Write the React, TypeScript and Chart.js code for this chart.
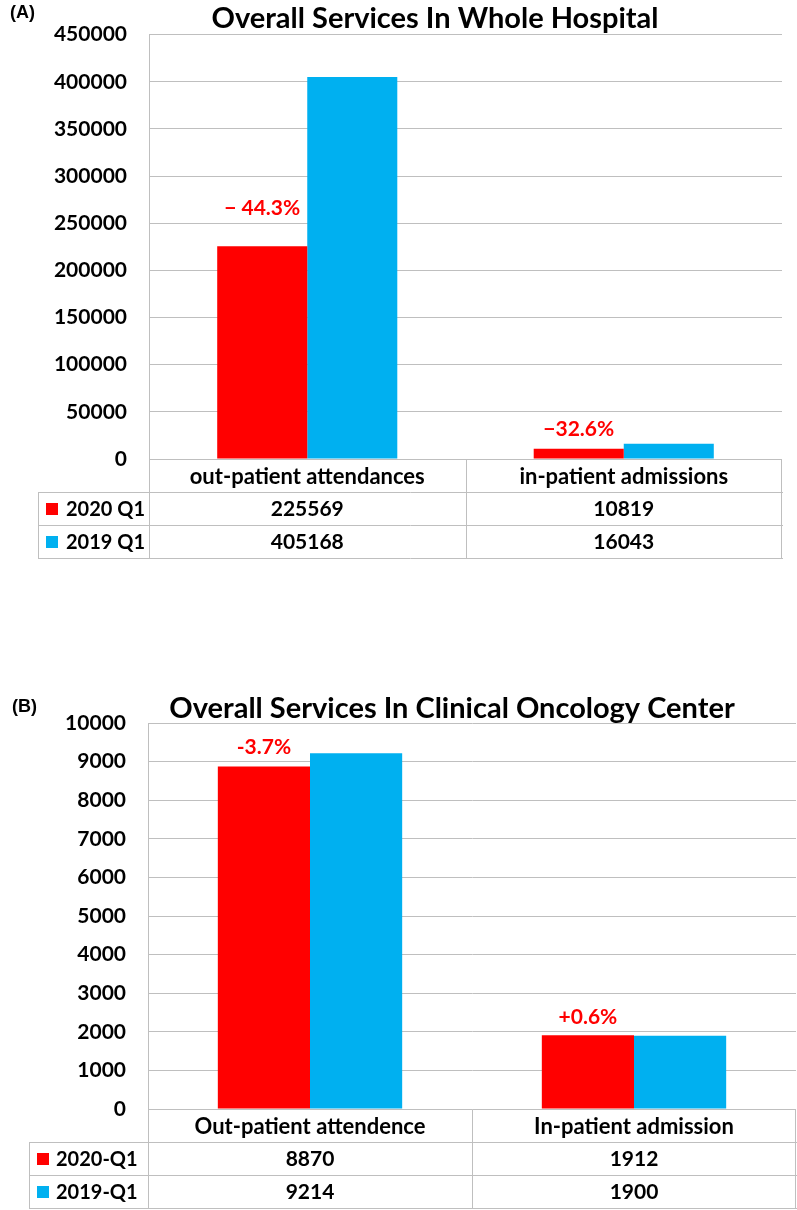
import React, { useEffect, useRef } from "react";
import { Chart, registerables } from "chart.js";

Chart.register(...registerables);

// ---------- Panel A data ----------
const categoriesA = ["out-patient attendances", "in-patient admissions"];
const seriesNamesA = ["2020 Q1", "2019 Q1"];
const values2020A = [225569, 10819];
const values2019A = [405168, 16043];
const changeLabelsA = ["− 44.3%", "−32.6%"];
const yMaxA = 450000;
const yStepA = 50000;

// ---------- Panel B data ----------
const categoriesB = ["Out-patient attendence", "In-patient admission"];
const seriesNamesB = ["2020-Q1", "2019-Q1"];
const values2020B = [8870, 1912];
const values2019B = [9214, 1900];
const changeLabelsB = ["-3.7%", "+0.6%"];
const yMaxB = 10000;
const yStepB = 1000;

const RED = "#ff0000";
const BLUE = "#00b0f0";
const GRID = "#bfbfbf";
const FONT = "Lato";

const decorPlugin = {
  id: "panelDecor",
  afterDraw(chart: any, _args: any, o: any) {
    const ctx = chart.ctx as CanvasRenderingContext2D;
    const area = chart.chartArea;
    const xs = chart.scales.x;
    const labels = chart.data.labels as string[];
    const n = labels.length;
    const centers = labels.map((_, i) => xs.getPixelForTick(i));
    const bounds = [area.left];
    for (let i = 0; i < n - 1; i++) bounds.push((centers[i] + centers[i + 1]) / 2);
    bounds.push(area.right);
    const px = (v: number) => Math.round(v) + 0.5;

    ctx.save();
    // title
    ctx.fillStyle = "#000";
    ctx.font = `bold ${o.titleSize}px ${FONT}`;
    ctx.textAlign = "center";
    ctx.textBaseline = "alphabetic";
    ctx.fillText(o.title, o.titleX, o.titleY);

    // panel letter
    ctx.font = `bold ${o.letterSize}px "Liberation Sans"`;
    ctx.textAlign = "left";
    ctx.textBaseline = "middle";
    ctx.fillText(o.letter, o.letterX, o.letterY);

    // change labels above red bars
    const meta = chart.getDatasetMeta(0);
    ctx.fillStyle = RED;
    ctx.font = `bold 21px ${FONT}`;
    ctx.textAlign = "center";
    o.changes.forEach((t: string, i: number) => {
      const el = meta.data[i];
      ctx.fillText(t, el.x, el.y - o.changeOffsets[i]);
    });

    // data table
    const top = area.bottom;
    const rh = o.rowH;
    const nRows = chart.data.datasets.length;
    const bottom = top + rh * (nRows + 1);
    ctx.strokeStyle = GRID;
    ctx.lineWidth = 1;
    ctx.beginPath();
    for (let r = 1; r <= nRows + 1; r++) {
      const y = px(top + rh * r);
      ctx.moveTo(o.tableLeft, y);
      ctx.lineTo(area.right + 1, y);
    }
    ctx.moveTo(px(o.tableLeft), px(top + rh));
    ctx.lineTo(px(o.tableLeft), px(bottom));
    bounds.forEach((b, i) => {
      const x = i === bounds.length - 1 ? px(b - 1) : px(b);
      ctx.moveTo(x, px(top));
      ctx.lineTo(x, px(bottom));
    });
    ctx.stroke();

    ctx.fillStyle = "#000";
    ctx.textBaseline = "middle";
    ctx.textAlign = "center";
    ctx.font = `bold 22px ${FONT}`;
    labels.forEach((l, i) => ctx.fillText(l, centers[i], top + rh / 2 + 1));
    chart.data.datasets.forEach((ds: any, r: number) => {
      const yc = top + rh * (r + 1) + rh / 2;
      ctx.fillStyle = ds.backgroundColor;
      ctx.fillRect(o.swatchX, Math.round(yc - 6), 12, 12);
      ctx.fillStyle = "#000";
      ctx.textAlign = "left";
      ctx.font = `bold 20px ${FONT}`;
      ctx.fillText(ds.label, o.textX, yc + 1);
      ctx.textAlign = "center";
      ctx.font = `bold 21px ${FONT}`;
      ds.data.forEach((v: number, i: number) => ctx.fillText(String(v), centers[i], yc + 1));
    });
    ctx.restore();
  },
};

function makeConfig(
  categories: string[],
  names: string[],
  v20: number[],
  v19: number[],
  yMax: number,
  yStep: number,
  yWidth: number,
  pad: { top: number; right: number; bottom: number },
  decor: any
): any {
  return {
    type: "bar",
    data: {
      labels: categories,
      datasets: [
        { label: names[0], data: v20, backgroundColor: RED, borderWidth: 0, categoryPercentage: 0.569, barPercentage: 1 },
        { label: names[1], data: v19, backgroundColor: BLUE, borderWidth: 0, categoryPercentage: 0.569, barPercentage: 1 },
      ],
    },
    options: {
      responsive: false,
      animation: false,
      layout: { padding: { left: 0, top: pad.top, right: pad.right, bottom: pad.bottom } },
      plugins: {
        legend: { display: false },
        title: { display: false },
        tooltip: { enabled: false },
        panelDecor: decor,
      },
      scales: {
        x: { display: false },
        y: {
          min: 0,
          max: yMax,
          afterFit: (s: any) => {
            s.width = yWidth;
          },
          border: { display: true, color: GRID, width: 1 },
          grid: { color: GRID, lineWidth: 1, drawTicks: false },
          ticks: {
            stepSize: yStep,
            padding: 22,
            color: "#000",
            font: { family: FONT, weight: "bold", size: 21 },
            callback: (v: any) => String(v),
          },
        },
      },
    },
    plugins: [decorPlugin],
  };
}

function Panel({ config, width, height }: { config: any; width: number; height: number }) {
  const ref = useRef<HTMLCanvasElement | null>(null);
  useEffect(() => {
    if (!ref.current) return;
    const chart = new Chart(ref.current, config);
    return () => chart.destroy();
  }, [config]);
  return <canvas ref={ref} width={width} height={height} style={{ display: "block", width, height }} />;
}

const configA = makeConfig(
  categoriesA,
  seriesNamesA,
  values2020A,
  values2019A,
  yMaxA,
  yStepA,
  149,
  { top: 34, right: 15, bottom: 600 - 459 },
  {
    title: "Overall Services In Whole Hospital",
    titleSize: 29,
    titleX: 435,
    titleY: 28,
    letter: "(A)",
    letterSize: 18,
    letterX: 10,
    letterY: 13,
    changes: changeLabelsA,
    changeOffsets: [38, 20],
    rowH: 33,
    tableLeft: 38,
    swatchX: 46,
    textX: 66,
  }
);

const configB = makeConfig(
  categoriesB,
  seriesNamesB,
  values2020B,
  values2019B,
  yMaxB,
  yStepB,
  148,
  { top: 123, right: 1, bottom: 610 - 509 },
  {
    title: "Overall Services In Clinical Oncology Center",
    titleSize: 29,
    titleX: 452,
    titleY: 118,
    letter: "(B)",
    letterSize: 18,
    letterX: 12,
    letterY: 107,
    changes: changeLabelsB,
    changeOffsets: [19, 18],
    rowH: 33,
    tableLeft: 29,
    swatchX: 37,
    textX: 56,
  }
);

export default function App() {
  return (
    <div style={{ position: "absolute", left: 0, top: 0, width: 797, height: 1210, background: "#fff" }}>
      <Panel config={configA} width={797} height={600} />
      <Panel config={configB} width={797} height={610} />
    </div>
  );
}
